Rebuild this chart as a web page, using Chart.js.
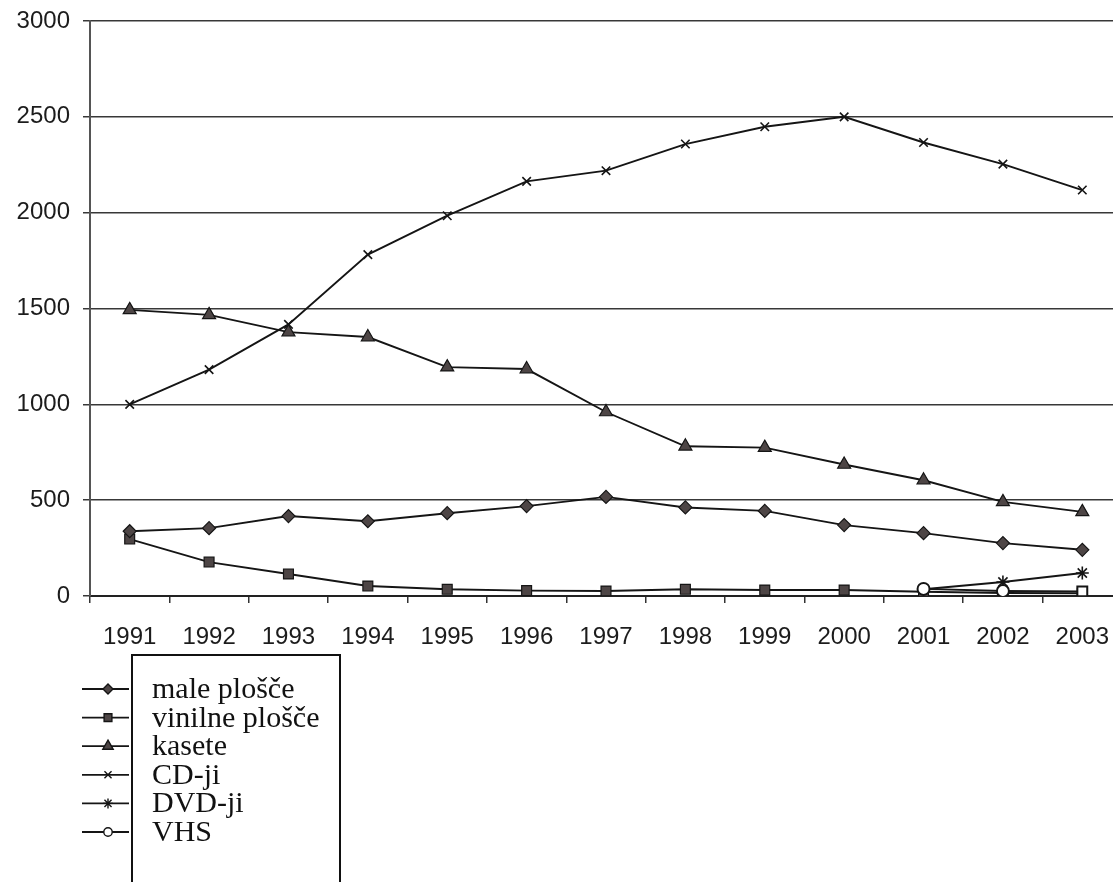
<!DOCTYPE html>
<html>
<head>
<meta charset="utf-8">
<script src="https://cdn.jsdelivr.net/npm/chart.js@4.4.1/dist/chart.umd.min.js"></script>
<style>
  html, body { margin: 0; padding: 0; background: #fff; overflow: hidden; width: 1113px; height: 882px; }
  #chart { position: absolute; left: 0; top: 0; }
  #legendBox { position: absolute; left: 131px; top: 654px; width: 210px; height: 260px;
               box-sizing: border-box; border: 2px solid #111; }
  #legendText { position: absolute; left: 152px; top: 674px;
                font-family: 'Liberation Serif', 'Times New Roman', serif; font-size: 30px;
                line-height: 28.6px; color: #111; white-space: nowrap; }
  #legendMarks { position: absolute; left: 78px; top: 660px; }
</style>
</head>
<body>
<canvas id="chart" width="1140" height="660" style="width:1140px;height:660px"></canvas>
<div id="legendBox"></div>
<canvas id="legendMarks" width="54" height="222" style="width:54px;height:222px"></canvas>
<div id="legendText"></div>
<script>
// Years on the category axis
const years = ['1991','1992','1993','1994','1995','1996','1997','1998','1999','2000','2001','2002','2003'];

// Sales per format
const malePlosce    = [338, 354, 417, 390, 432, 469, 517, 462, 444, 370, 328, 276, 241];
const vinilnePlosce = [297, 177, 115, 52, 35, 28, 26, 35, 31, 31, 22, 16, 14];
const kasete        = [1493, 1467, 1377, 1351, 1194, 1184, 960, 781, 774, 686, 604, 491, 439];
const cdji          = [1000, 1181, 1417, 1781, 1984, 2163, 2219, 2358, 2448, 2500, 2366, 2253, 2118];
const dvdji         = [null, null, null, null, null, null, null, null, null, null, 35, 73, 120];
const vhs           = [null, null, null, null, null, null, null, null, null, null, 37, 26, 24];

// Value axis ticks
const yTicks = [0, 500, 1000, 1500, 2000, 2500, 3000];

const seriesNames = ['male plošče', 'vinilne plošče', 'kasete', 'CD-ji', 'DVD-ji', 'VHS'];

const ink = '#151515';
const markFill = '#4d4545';
const axisFont = { family: "'Liberation Sans', Arial, sans-serif", size: 24 };

function series(label, data, style, radius, fillColor, extra) {
  return Object.assign({
    label: label,
    data: data,
    borderColor: ink,
    borderWidth: 1.9,
    pointStyle: style,
    pointRadius: radius,
    pointBackgroundColor: fillColor,
    pointBorderColor: ink,
    pointBorderWidth: 1.2,
    tension: 0,
    fill: false,
    spanGaps: false
  }, extra || {});
}

const vhsStyles = vhs.map((v, i) => i === vhs.length - 1 ? 'rect' : 'circle');
const vhsRadii = vhs.map((v, i) => i === vhs.length - 1 ? 7 : 6);

const datasets = [
  series(seriesNames[0], malePlosce, 'rectRot', 6.5, markFill),
  series(seriesNames[1], vinilnePlosce, 'rect', 7, markFill),
  series(seriesNames[2], kasete, 'triangle', 7.5, markFill),
  series(seriesNames[3], cdji, 'crossRot', 6, ink, { pointBorderWidth: 1.6 }),
  series(seriesNames[4], dvdji, 'star', 6.5, ink, { pointBorderWidth: 1.6 }),
  // open VHS markers sit above the other series
  series(seriesNames[5], vhs, vhsStyles, vhsRadii, '#ffffff', { pointBorderWidth: 2, order: -1 })
];

const chart = new Chart(document.getElementById('chart'), {
  type: 'line',
  data: { labels: years, datasets: datasets },
  options: {
    responsive: false,
    animation: false,
    layout: { padding: { left: 0, top: 21, right: 18, bottom: 0 } },
    plugins: { legend: { display: false }, tooltip: { enabled: false } },
    scales: {
      x: {
        offset: true,
        grid: { offset: true, drawOnChartArea: false, drawTicks: true, tickLength: 7,
                color: '#333', lineWidth: 1.5 },
        border: { display: true, color: '#222', width: 2 },
        ticks: { padding: 20, font: axisFont, color: '#1c1c1c', maxRotation: 0, autoSkip: false },
        afterFit(scale) { scale.height = 660 - 596; }
      },
      y: {
        min: yTicks[0],
        max: yTicks[yTicks.length - 1],
        afterBuildTicks(scale) { scale.ticks = yTicks.map(v => ({ value: v })); },
        ticks: { padding: 13, font: axisFont, color: '#1c1c1c', callback: v => String(v) },
        grid: { color: '#383838', lineWidth: 1.5, tickLength: 7, drawTicks: true },
        border: { display: true, color: '#555', width: 2 },
        afterFit(scale) {
          scale.width = 90;
          scale.paddingTop = 0;
          scale.paddingBottom = 0;
        }
      }
    }
  }
});

// Legend: names as text, keys drawn with the chart's own point styles
document.getElementById('legendText').innerHTML = seriesNames.map(n => '<div>' + n + '</div>').join('');

(function drawLegendKeys() {
  const c = document.getElementById('legendMarks');
  const ctx = c.getContext('2d');
  const keyRadius = [5, 5.5, 6, 5, 5, 4.2];
  const helpers = Chart.helpers;
  datasets.forEach((ds, i) => {
    const y = 29 + 28.6 * i;
    ctx.save();
    ctx.strokeStyle = ink;
    ctx.lineWidth = 1.8;
    ctx.beginPath();
    ctx.moveTo(4, y);
    ctx.lineTo(51, y);
    ctx.stroke();
    const style = Array.isArray(ds.pointStyle) ? ds.pointStyle[0] : ds.pointStyle;
    ctx.fillStyle = ds.pointBackgroundColor;
    ctx.strokeStyle = ink;
    ctx.lineWidth = 1.4;
    if (helpers && helpers.drawPoint) {
      helpers.drawPoint(ctx, { pointStyle: style, radius: keyRadius[i], rotation: 0, borderWidth: 1.4 }, 30, y);
    } else {
      ctx.beginPath();
      ctx.arc(30, y, keyRadius[i], 0, Math.PI * 2);
      ctx.fill();
      ctx.stroke();
    }
    ctx.restore();
  });
})();
</script>
</body>
</html>
